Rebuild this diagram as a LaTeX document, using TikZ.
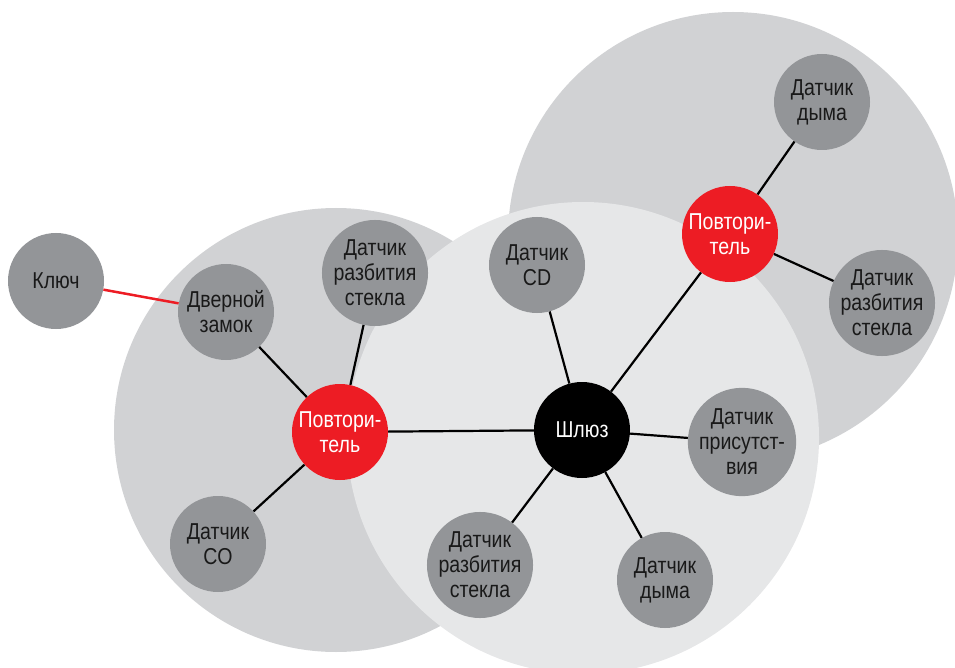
\documentclass[tikz,border=0pt]{standalone}
\usepackage{fontspec}
\setmainfont{Liberation Sans}[FakeStretch=0.85]
\definecolor{bigA}{HTML}{D1D2D4}
\definecolor{bigB}{HTML}{E6E7E8}
\definecolor{nodegray}{HTML}{939598}
\definecolor{repred}{HTML}{ED1C24}
\begin{document}
\begin{tikzpicture}[x=1pt,y=-1pt,
  dev/.style={circle,minimum size=96pt,inner sep=0pt,fill=nodegray,align=center,
    font=\fontsize{23}{25}\selectfont,text=black!90},
  rep/.style={dev,fill=repred,text=white},
  gate/.style={dev,fill=black,text=white},
  link/.style={line width=2.2pt,black},
  redlink/.style={line width=2.5pt,repred}]
\useasboundingbox (0,0) rectangle (955,668);
% zones
\fill[bigA] (733,237) circle (225);
\fill[bigA] (336,430) circle (222);
\fill[bigB] (583,438) circle (236);
% nodes
\node[dev] (key) at (56,281) {Ключ};
\node[dev] (lock) at (226,312) {Дверной\\замок};
\node[dev] (glassL) at (375,273) {Датчик\\разбития\\стекла};
\node[rep] (repL) at (340,432) {Повтори-\\тель};
\node[dev] (co) at (218,544) {Датчик\\CO};
\node[dev] (cd) at (537,265) {Датчик\\CD};
\node[gate] (gw) at (582,430) {Шлюз};
\node[dev] (pres) at (742,442) {Датчик\\присутст-\\вия};
\node[dev] (glassB) at (480,565) {Датчик\\разбития\\стекла};
\node[dev] (smokeB) at (665,580) {Датчик\\дыма};
\node[rep] (repR) at (730,234) {Повтори-\\тель};
\node[dev] (smokeT) at (822,102) {Датчик\\дыма};
\node[dev] (glassR) at (882,303) {Датчик\\разбития\\стекла};
% links
\draw[redlink] (key) -- (lock);
\draw[link] (repL) -- (lock);
\draw[link] (repL) -- (glassL);
\draw[link] (repL) -- (co);
\draw[link] (repL) -- (gw);
\draw[link] (gw) -- (cd);
\draw[link] (gw) -- (repR);
\draw[link] (gw) -- (pres);
\draw[link] (gw) -- (glassB);
\draw[link] (gw) -- (smokeB);
\draw[link] (repR) -- (smokeT);
\draw[link] (repR) -- (glassR);
\end{tikzpicture}
\end{document}
